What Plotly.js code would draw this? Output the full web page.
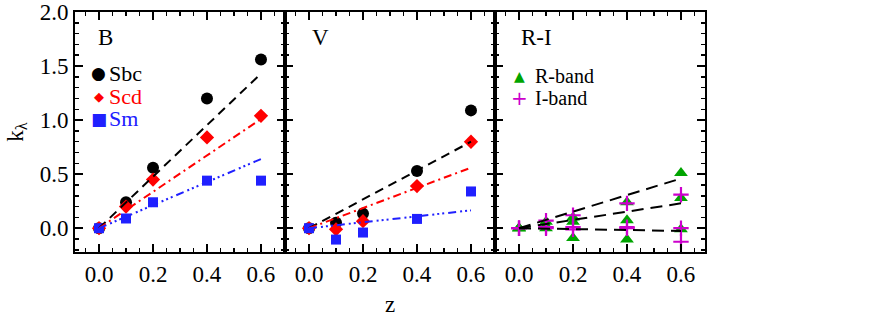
<!DOCTYPE html>
<html>
<head>
<meta charset="utf-8">
<script src="https://cdn.plot.ly/plotly-3.0.1.min.js"></script>
<style>
  html, body { margin: 0; padding: 0; background: #fff; }
  #plot { width: 879px; height: 323px; }
</style>
</head>
<body>
<div id="plot"></div>
<script>
// redshift samples
let zVals = [0, 0.1, 0.2, 0.4, 0.6]
let fitZ = [0, 0.6]

// B band
let bSbc = [0, 0.24, 0.56, 1.20, 1.56]
let bScd = [0, 0.20, 0.45, 0.84, 1.04]
let bSm = [0, 0.09, 0.24, 0.44, 0.44]
let bFitSbc = [0, 1.43]
let bFitScd = [0, 1.01]
let bFitSm = [0, 0.64]

// V band
let vSbc = [0, 0.05, 0.135, 0.53, 1.09]
let vScd = [0, -0.01, 0.065, 0.39, 0.80]
let vSm = [0, -0.105, -0.04, 0.086, 0.34]
let vFitSbc = [0, 0.80]
let vFitScd = [0, 0.56]
let vFitSm = [0, 0.165]

// R and I bands (three galaxy types each)
let rSbc = [0, 0.06, 0.10, 0.24, 0.51]
let rScd = [0, 0.02, 0.06, 0.074, 0.28]
let rSm = [0, 0.0, -0.09, -0.105, -0.01]
let iSbc = [0, 0.07, 0.12, 0.23, 0.31]
let iScd = [0, 0.01, 0.01, 0.01, 0.0]
let iSm = [0, 0.0, -0.01, 0.0, -0.125]
let riFitTop = [0, 0.46]
let riFitMid = [0, 0.23]
let riFitLow = [0, -0.025]

let blk = 'black', red = '#ff0000', blu = '#2020ff', grn = '#00a400', mag = '#cc00cc'
let dashBlk = '9px,6px'
let dashRed = '8px,4px,2px,4px'
let dashBlu = '8px,4px,2px,3px,2px,3px,2px,4px'
let dashRI = '12px,7px'

function pts(y, xa, ya, color, symbol, size) {
    return {x: zVals, y: y, xaxis: xa, yaxis: ya, type: 'scatter', mode: 'markers',
        marker: {color: color, symbol: symbol, size: size,
            line: symbol === 'cross-thin' ? {color: color, width: 2.2} : {width: 0}},
        showlegend: false, hoverinfo: 'skip'}
}
function fit(y, xa, ya, color, dash) {
    return {x: fitZ, y: y, xaxis: xa, yaxis: ya, type: 'scatter', mode: 'lines',
        line: {color: color, width: 2, dash: dash}, showlegend: false, hoverinfo: 'skip'}
}

let data = [
    pts(bSbc, 'x', 'y', blk, 'circle', 12),
    pts(bScd, 'x', 'y', red, 'diamond', 11),
    pts(bSm, 'x', 'y', blu, 'square', 10),
    fit(bFitSbc, 'x', 'y', blk, dashBlk),
    fit(bFitScd, 'x', 'y', red, dashRed),
    fit(bFitSm, 'x', 'y', blu, dashBlu),

    pts(vSbc, 'x2', 'y2', blk, 'circle', 12),
    pts(vScd, 'x2', 'y2', red, 'diamond', 11),
    pts(vSm, 'x2', 'y2', blu, 'square', 10),
    fit(vFitSbc, 'x2', 'y2', blk, dashBlk),
    fit(vFitScd, 'x2', 'y2', red, dashRed),
    fit(vFitSm, 'x2', 'y2', blu, dashBlu),

    pts(rSbc, 'x3', 'y3', grn, 'triangle-up', 12),
    pts(rScd, 'x3', 'y3', grn, 'triangle-up', 12),
    pts(rSm, 'x3', 'y3', grn, 'triangle-up', 12),
    pts(iSbc, 'x3', 'y3', mag, 'cross-thin', 11),
    pts(iScd, 'x3', 'y3', mag, 'cross-thin', 11),
    pts(iSm, 'x3', 'y3', mag, 'cross-thin', 11),
    fit(riFitTop, 'x3', 'y3', blk, dashRI),
    fit(riFitMid, 'x3', 'y3', blk, dashRI),
    fit(riFitLow, 'x3', 'y3', blk, dashRI)
]

let serif = 'Liberation Serif, Times New Roman, serif'
let tickFont = {family: serif, size: 23, color: 'black'}

function xax(dom, withTitle) {
    let a = {domain: dom, range: [-0.089, 0.689], tick0: 0, dtick: 0.2, tickformat: '.1f',
        ticks: 'inside', ticklen: 8, tickwidth: 2, tickcolor: 'black',
        minor: {dtick: 0.05, ticks: 'inside', ticklen: 4, tickwidth: 1.5, tickcolor: 'black'},
        showline: true, linewidth: 2, linecolor: 'black', mirror: 'ticks',
        showgrid: false, zeroline: false, tickfont: tickFont, fixedrange: true}
    if (withTitle) a.title = {text: 'z', font: {family: serif, size: 23, color: 'black'}, standoff: 10}
    return a
}
function yax(anchor, labels) {
    let a = {anchor: anchor, range: [-0.22, 2.0], tick0: 0, dtick: 0.5, tickformat: '.1f',
        ticks: 'inside', ticklen: 8, tickwidth: 2, tickcolor: 'black',
        minor: {dtick: 0.1, ticks: 'inside', ticklen: 4, tickwidth: 1.5, tickcolor: 'black'},
        showline: true, linewidth: 2, linecolor: 'black', mirror: 'ticks',
        showgrid: false, zeroline: false, tickfont: tickFont, showticklabels: labels,
        fixedrange: true}
    if (labels) a.title = {text: 'k<sub>λ</sub>', font: {family: serif, size: 23, color: 'black'}, standoff: 10}
    return a
}

function note(text, xref, yref, x, y, color, size, anchor, family) {
    return {text: text, xref: xref, yref: yref, x: x, y: y, xanchor: anchor || 'left', yanchor: 'middle',
        showarrow: false, font: {family: family || serif, size: size, color: color}}
}
let sym = 'DejaVu Sans'

let layout = {
    width: 879, height: 323,
    margin: {l: 75, r: 174, t: 12, b: 71},
    paper_bgcolor: 'white', plot_bgcolor: 'white',
    showlegend: false,
    xaxis: xax([0, 1 / 3], false),
    xaxis2: xax([1 / 3, 2 / 3], true),
    xaxis3: xax([2 / 3, 1], false),
    yaxis: yax('x', true),
    yaxis2: yax('x2', false),
    yaxis3: yax('x3', false),
    annotations: [
        note('B', 'x domain', 'y domain', 0.1, 0.895, 'black', 23),
        note('V', 'x2 domain', 'y2 domain', 0.12, 0.895, 'black', 23),
        note('R-I', 'x3 domain', 'y3 domain', 0.115, 0.895, 'black', 23),
        // legend, B panel
        note('●', 'x domain', 'y domain', 0.114, 0.745, blk, 17, 'center', sym),
        note('Sbc', 'x domain', 'y domain', 0.15, 0.745, blk, 22),
        note('◆', 'x domain', 'y domain', 0.114, 0.648, red, 13, 'center', sym),
        note('Scd', 'x domain', 'y domain', 0.15, 0.648, red, 22),
        note('■', 'x domain', 'y domain', 0.114, 0.555, blu, 17, 'center', sym),
        note('Sm', 'x domain', 'y domain', 0.15, 0.555, blu, 22),
        // legend, R-I panel
        note('▲', 'x3 domain', 'y3 domain', 0.115, 0.732, grn, 14, 'center', sym),
        note('R-band', 'x3 domain', 'y3 domain', 0.18, 0.732, 'black', 20),
        note('+', 'x3 domain', 'y3 domain', 0.115, 0.643, mag, 20, 'center', sym),
        note('I-band', 'x3 domain', 'y3 domain', 0.18, 0.643, 'black', 20)
    ]
}

Plotly.newPlot('plot', data, layout, {staticPlot: true})
</script>
</body>
</html>
